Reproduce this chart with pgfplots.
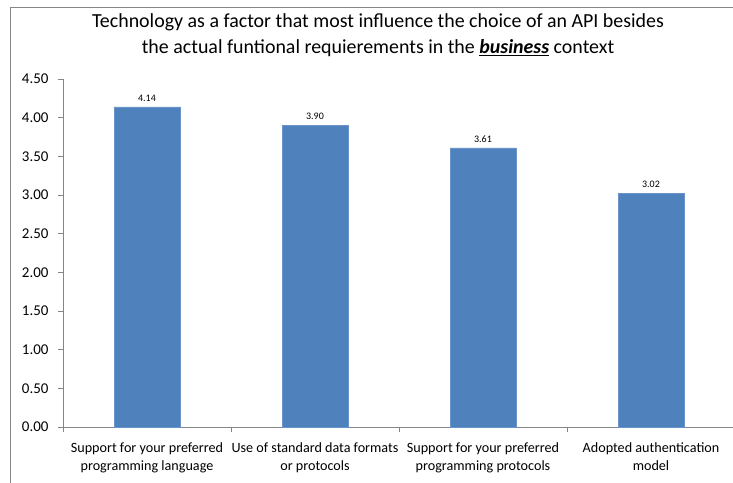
\documentclass[border=0pt]{standalone}
\usepackage{pgfplots}
\pgfplotsset{compat=1.18}
\usepackage{fontspec}
\setmainfont{Carlito}
\definecolor{barblue}{RGB}{79,129,189}
\definecolor{axisgray}{RGB}{134,134,134}
\begin{document}
\begin{tikzpicture}
\useasboundingbox (0,0) rectangle (733bp,-483bp);
% chart frame
\draw[axisgray, line width=1bp] (10bp,-483bp) -- (10bp,-7bp) -- (740bp,-7bp);
% title
\node[font=\fontsize{20}{26.5}\selectfont, align=center] at (378bp,-35bp)
  {Technology as a factor that most influence the choice of an API besides\\
   the actual funtional requierements in the \textbf{\textit{\underline{business}}} context};
\begin{axis}[
  at={(63bp,-427bp)}, anchor=south west,
  scale only axis, width=672bp, height=348bp,
  xmin=-0.5, xmax=3.5, ymin=0, ymax=4.5,
  axis x line*=bottom, axis y line*=left,
  axis line style={axisgray, line width=0.8bp},
  tick align=outside,
  major tick length=5bp, minor tick length=5bp,
  ytick={0,0.5,1,1.5,2,2.5,3,3.5,4,4.5},
  ytick style={axisgray, line width=0.8bp},
  yticklabel style={/pgf/number format/fixed, /pgf/number format/zerofill,
    /pgf/number format/precision=2, font=\fontsize{15}{17}\selectfont, xshift=-6bp},
  /pgf/number format/assume math mode=true,
  xtick={0,1,2,3},
  major x tick style={draw=none},
  minor xtick={-0.5,0.5,1.5,2.5,3.5},
  minor x tick style={axisgray, line width=0.8bp},
  xticklabels={{Support for your preferred\\programming language},
               {Use of standard data formats\\or protocols},
               {Support for your preferred\\programming protocols},
               {Adopted authentication\\model}},
  xticklabel style={align=center, font=\fontsize{14.2}{18.5}\selectfont, yshift=-7bp},
  ybar, bar width=66bp, bar shift=0pt,
  nodes near coords,
  nodes near coords style={font=\fontsize{10}{11}\selectfont, black,
    /pgf/number format/fixed, /pgf/number format/zerofill,
    /pgf/number format/precision=2, yshift=2bp},
  clip=false,
]
\addplot[fill=barblue, draw=barblue!85!white] coordinates {(0,4.14) (1,3.90) (2,3.61) (3,3.02)};
\end{axis}
\end{tikzpicture}
\end{document}
